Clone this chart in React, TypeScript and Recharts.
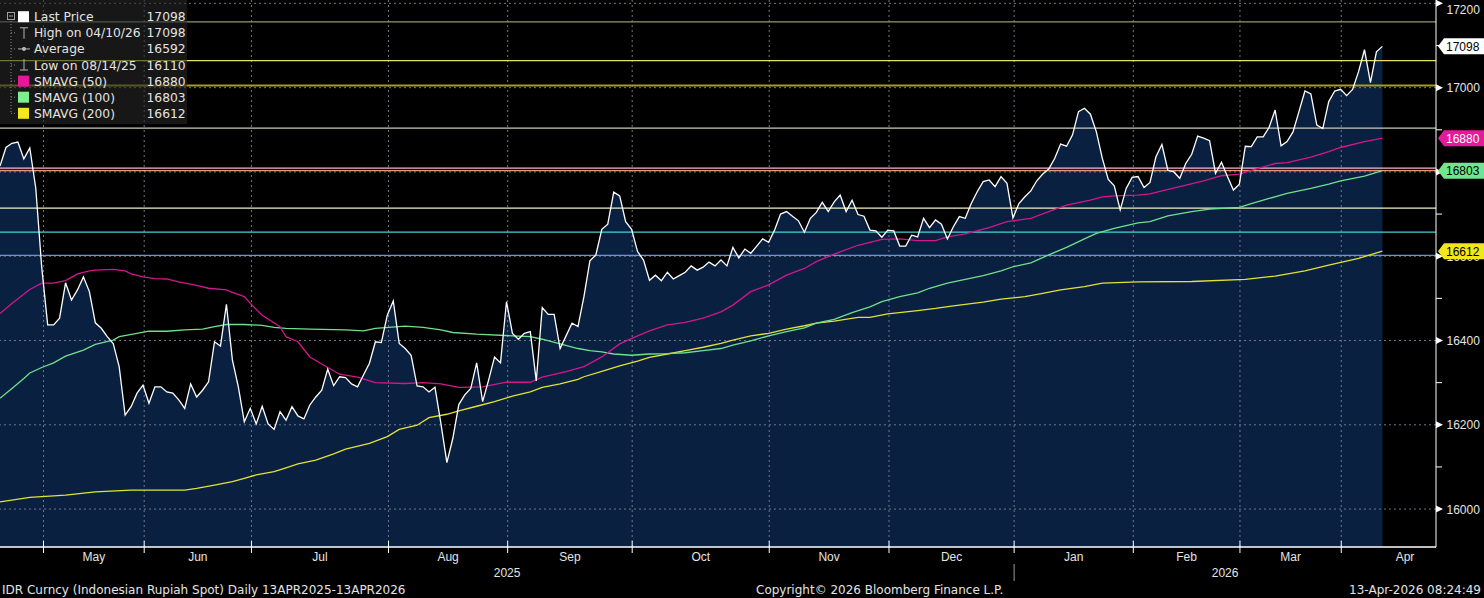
import React from "react"
import { ComposedChart, Area, Line, XAxis, YAxis, ReferenceLine } from "recharts"

// trading session index -> IDR spot close
const PRICE: [number, number][] = [
  [0, 16814], [1, 16858], [2, 16868], [3, 16871], [4, 16831], [5, 16857], [6, 16762], [7, 16574], [8, 16437], [9, 16437],
  [10, 16453], [11, 16537], [12, 16496], [13, 16520], [14, 16551], [15, 16516], [16, 16442], [17, 16429], [18, 16409], [19, 16393],
  [20, 16338], [21, 16223], [22, 16243], [23, 16275], [24, 16294], [25, 16251], [26, 16290], [27, 16290], [28, 16278], [29, 16275],
  [30, 16259], [31, 16239], [32, 16297], [33, 16266], [34, 16282], [35, 16302], [36, 16397], [37, 16387], [38, 16486], [39, 16354],
  [40, 16290], [41, 16207], [42, 16239], [43, 16202], [44, 16244], [45, 16202], [46, 16189], [47, 16231], [48, 16211], [49, 16243],
  [50, 16221], [51, 16214], [52, 16247], [53, 16266], [54, 16282], [55, 16332], [56, 16293], [57, 16314], [58, 16312], [59, 16297],
  [60, 16290], [61, 16318], [62, 16346], [63, 16397], [64, 16395], [65, 16460], [66, 16494], [67, 16393], [68, 16381], [69, 16365],
  [70, 16292], [71, 16290], [72, 16278], [73, 16289], [74, 16203], [75, 16110], [76, 16168], [77, 16248], [78, 16271], [79, 16286],
  [80, 16347], [81, 16255], [82, 16306], [83, 16361], [84, 16347], [85, 16492], [86, 16417], [87, 16403], [88, 16417], [89, 16421],
  [90, 16304], [91, 16478], [92, 16462], [93, 16462], [94, 16381], [95, 16411], [96, 16441], [97, 16433], [98, 16504], [99, 16589],
  [100, 16603], [101, 16664], [102, 16676], [103, 16752], [104, 16743], [105, 16682], [106, 16664], [107, 16611], [108, 16591], [109, 16543],
  [110, 16555], [111, 16542], [112, 16562], [113, 16546], [114, 16554], [115, 16562], [116, 16577], [117, 16567], [118, 16574], [119, 16586],
  [120, 16577], [121, 16591], [122, 16577], [123, 16621], [124, 16596], [125, 16617], [126, 16607], [127, 16624], [128, 16641], [129, 16633],
  [130, 16662], [131, 16700], [132, 16706], [133, 16695], [134, 16684], [135, 16657], [136, 16690], [137, 16704], [138, 16728], [139, 16706],
  [140, 16729], [141, 16745], [142, 16706], [143, 16733], [144, 16699], [145, 16695], [146, 16662], [147, 16660], [148, 16645], [149, 16662],
  [150, 16660], [151, 16624], [152, 16624], [153, 16650], [154, 16646], [155, 16690], [156, 16668], [157, 16686], [158, 16676], [159, 16641],
  [160, 16670], [161, 16694], [162, 16690], [163, 16725], [164, 16753], [165, 16777], [166, 16781], [167, 16765], [168, 16789], [169, 16773],
  [170, 16691], [171, 16725], [172, 16741], [173, 16755], [174, 16779], [175, 16795], [176, 16807], [177, 16832], [178, 16866], [179, 16861],
  [180, 16888], [181, 16943], [182, 16951], [183, 16937], [184, 16895], [185, 16832], [186, 16782], [187, 16767], [188, 16710], [189, 16761],
  [190, 16787], [191, 16789], [192, 16763], [193, 16775], [194, 16836], [195, 16865], [196, 16804], [197, 16800], [198, 16785], [199, 16820],
  [200, 16842], [201, 16885], [202, 16880], [203, 16874], [204, 16797], [205, 16823], [206, 16789], [207, 16757], [208, 16771], [209, 16861],
  [210, 16860], [211, 16883], [212, 16883], [213, 16906], [214, 16947], [215, 16862], [216, 16872], [217, 16895], [218, 16943], [219, 16992],
  [220, 16985], [221, 16911], [222, 16903], [223, 16967], [224, 16992], [225, 16996], [226, 16981], [227, 16996], [228, 17038], [229, 17090],
  [230, 17012], [231, 17085], [232, 17098],
]

const SMA50: [number, number][] = [
  [0, 16464], [2, 16488], [5, 16521], [7, 16536], [9, 16536], [11, 16542], [13, 16558], [15, 16565], [16, 16567], [19, 16569],
  [21, 16565], [22, 16558], [24, 16551], [26, 16547], [28, 16546], [30, 16539], [33, 16531], [35, 16524], [38, 16520], [39, 16514],
  [41, 16504], [42, 16488], [44, 16460], [47, 16433], [48, 16409], [50, 16397], [52, 16361], [55, 16336], [57, 16320], [60, 16313],
  [63, 16300], [68, 16298], [71, 16300], [74, 16297], [77, 16289], [81, 16290], [85, 16301], [89, 16301], [91, 16313], [95, 16326],
  [98, 16338], [101, 16361], [104, 16392], [107, 16411], [109, 16423], [112, 16437], [115, 16443], [118, 16453], [121, 16468], [123, 16484],
  [126, 16516], [129, 16532], [132, 16555], [135, 16571], [137, 16587], [140, 16605], [144, 16626], [148, 16640], [151, 16641], [154, 16637],
  [157, 16637], [159, 16646], [162, 16653], [166, 16668], [169, 16682], [173, 16690], [176, 16706], [179, 16721], [183, 16733], [185, 16741],
  [187, 16743], [191, 16745], [193, 16748], [195, 16755], [198, 16765], [202, 16779], [205, 16791], [208, 16795], [211, 16808], [214, 16820],
  [216, 16822], [220, 16835], [223, 16848], [225, 16858], [229, 16872], [232, 16880],
]

const SMA100: [number, number][] = [
  [0, 16263], [2, 16286], [4, 16310], [5, 16323], [7, 16336], [9, 16347], [11, 16363], [14, 16377], [16, 16391], [19, 16401],
  [20, 16409], [23, 16417], [25, 16422], [28, 16422], [31, 16425], [34, 16427], [36, 16433], [38, 16438], [41, 16438], [44, 16436],
  [46, 16431], [48, 16429], [52, 16427], [58, 16425], [61, 16423], [63, 16429], [68, 16434], [71, 16431], [74, 16425], [76, 16419],
  [80, 16415], [86, 16411], [89, 16409], [91, 16403], [94, 16392], [97, 16381], [99, 16376], [101, 16373], [103, 16368], [106, 16365],
  [109, 16368], [112, 16369], [115, 16371], [118, 16376], [121, 16381], [123, 16389], [126, 16399], [129, 16411], [132, 16421], [135, 16430],
  [137, 16441], [140, 16450], [143, 16466], [146, 16480], [148, 16492], [151, 16504], [154, 16513], [156, 16524], [159, 16536], [162, 16545],
  [165, 16554], [168, 16565], [170, 16575], [173, 16584], [176, 16603], [179, 16621], [182, 16641], [184, 16654], [187, 16666], [191, 16679],
  [193, 16682], [196, 16696], [200, 16706], [203, 16712], [208, 16716], [210, 16725], [213, 16737], [216, 16749], [220, 16761], [223, 16771],
  [225, 16779], [229, 16790], [232, 16803],
]

const SMA200: [number, number][] = [
  [0, 16017], [5, 16028], [11, 16033], [16, 16041], [22, 16045], [28, 16045], [31, 16045], [33, 16049], [36, 16057], [39, 16065],
  [41, 16073], [43, 16081], [46, 16089], [48, 16098], [50, 16107], [53, 16116], [56, 16131], [58, 16142], [62, 16156], [65, 16172],
  [67, 16189], [70, 16199], [72, 16217], [75, 16225], [77, 16233], [80, 16244], [83, 16255], [86, 16268], [89, 16278], [91, 16289],
  [94, 16297], [97, 16308], [98, 16314], [101, 16327], [104, 16340], [107, 16351], [109, 16360], [112, 16368], [115, 16376], [118, 16384],
  [121, 16393], [123, 16401], [126, 16411], [129, 16417], [132, 16427], [135, 16435], [137, 16441], [140, 16446], [144, 16455], [146, 16455],
  [149, 16463], [154, 16471], [157, 16476], [160, 16482], [165, 16491], [168, 16498], [172, 16504], [175, 16512], [178, 16520], [182, 16528],
  [185, 16536], [191, 16539], [200, 16540], [209, 16545], [214, 16553], [219, 16565], [223, 16579], [228, 16595], [232, 16612],
]

// first session of each month (fractional = boundary between sessions); last one is off the chart
const MONTH_EDGES = [7.3, 24.2, 42.2, 65.2, 85.2, 106.1, 129.1, 149.2, 170.2, 190.2, 208.1, 225.1, 246.5]
const MONTHS = ["May", "Jun", "Jul", "Aug", "Sep", "Oct", "Nov", "Dec", "Jan", "Feb", "Mar", "Apr"]
const YEARS = ["2025", "2026"]
const YEAR_EDGE = 170.2

const Y_MAJOR = [16000, 16200, 16400, 16600, 16800, 17000, 17200]
const Y_MINOR = [16100, 16300, 16500, 16700, 16900, 17100]

// drawn horizontal levels
const LEVELS = [17156, 17064, 17005, 16904, 16809, 16803, 16714, 16657, 16602]
const LEVEL_COLORS = ["#8a9a76", "#e4e45c", "#a89c20", "#cdc9bb", "#f2b9d6", "#e89672", "#f1efc6", "#46d2d2", "#6f8fe6"]

const TAGS = [17098, 16880, 16803, 16612]
const TAG_STYLE = [
  { fill: "#ffffff", text: "#000000" },
  { fill: "#e8189a", text: "#ffffff" },
  { fill: "#6ee68c", text: "#000000" },
  { fill: "#f2e61c", text: "#000000" },
]

const LEGEND_NAMES = ["Last Price", "High on 04/10/26", "Average", "Low on 08/14/25", "SMAVG (50)", "SMAVG (100)", "SMAVG (200)"]
const LEGEND_VALUES = [17098, 17098, 16592, 16110, 16880, 16803, 16612]

const FOOTER_LEFT = "IDR Curncy (Indonesian Rupiah Spot) Daily 13APR2025-13APR2026"
const FOOTER_MID = "Copyright\u00a9 2026 Bloomberg Finance L.P."
const FOOTER_RIGHT = "13-Apr-2026 08:24:49"

const W = 1484
const H = 598
const X_MIN = 0
const X_MAX = 241
const Y_MIN = 15910
const Y_MAX = 17208

const COL = {
  fill: "#0a2040",
  price: "#ffffff",
  sma50: "#d4168c",
  sma100: "#6fe08c",
  sma200: "#e2e232",
  grid: "#6f7787",
  text: "#e4e4e4",
}
const AXIS_FONT = "'Liberation Sans', Arial, sans-serif"
const UI_FONT = "'DejaVu Sans', Verdana, sans-serif"

const rows = (a: [number, number][]) => a.map(([k, v]) => ({ k, v }))

// x ticks: month edges (tick marks), month labels (mid), year labels
type XInfo = { value: number; kind: "edge" | "month" | "year"; label?: string; sep?: boolean }
const X_INFO: XInfo[] = [
  ...MONTH_EDGES.filter((e) => e < X_MAX).map((e) => ({ value: e, kind: "edge" as const, sep: e === YEAR_EDGE })),
  ...MONTHS.map((m, i) => ({ value: (MONTH_EDGES[i] + MONTH_EDGES[i + 1]) / 2, kind: "month" as const, label: m })),
  { value: (X_MIN + YEAR_EDGE) / 2, kind: "year", label: YEARS[0] },
  { value: (YEAR_EDGE + X_MAX) / 2, kind: "year", label: YEARS[1] },
]

function XTick(props: any) {
  const { x, y, payload } = props
  const info = X_INFO.find((t) => t.value === payload.value)
  if (!info) return <g />
  if (info.kind === "edge")
    return (
      <g>
        <line x1={x} x2={x} y1={y - 6} y2={y + 6} stroke="#ffffff" />
        {info.sep && <line x1={x} x2={x} y1={y + 17} y2={y + 34} stroke="#9a9a9a" />}
      </g>
    )
  return (
    <text
      x={x}
      y={y + (info.kind === "month" ? 14 : 30)}
      textAnchor="middle"
      fontSize={12}
      fontFamily={AXIS_FONT}
      fill={COL.text}
    >
      {info.label}
    </text>
  )
}

function YTick(props: any) {
  const { x, y, payload } = props
  const v = payload.value
  const ti = TAGS.indexOf(v)
  if (ti >= 0) {
    const s = TAG_STYLE[ti]
    return (
      <g>
        <path d={`M${x + 2},${y} L${x + 8},${y - 8} L${x + 48},${y - 8} L${x + 48},${y + 8} L${x + 8},${y + 8} Z`} fill={s.fill} />
        <text x={x + 10} y={y + 4.5} fontSize={12} fontFamily={AXIS_FONT} fill={s.text}>
          {v}
        </text>
      </g>
    )
  }
  if (Y_MAJOR.includes(v)) {
    const ty = Math.max(y, 9)
    return (
      <g>
        <path d={`M${x},${y - 3.5} L${x + 7},${y} L${x},${y + 3.5} Z`} fill="#ffffff" />
        <text x={x + 10.5} y={ty + 4.5} fontSize={12} fontFamily={AXIS_FONT} fill={COL.text}>
          {v}
        </text>
      </g>
    )
  }
  return <line x1={x} x2={x + 6} y1={y} y2={y} stroke="#ffffff" />
}

function Legend() {
  const rowY = (i: number) => 16.7 + i * 16.1
  const sq = ["#ffffff", null, null, null, "#e8179a", "#7cf08e", "#f4e81c"]
  return (
    <g>
      <rect x={0} y={0} width={187} height={124} fill="#262626" fillOpacity={0.6} />
      <rect x={7.5} y={12.5} width={7} height={7} fill="none" stroke="#a0a0a0" />
      <line x1={9} x2={13} y1={16} y2={16} stroke="#a0a0a0" />
      <line x1={11} x2={11} y1={21} y2={rowY(6)} stroke="#8a8a8a" strokeDasharray="1 2" />
      {LEGEND_NAMES.map((name, i) => {
        const cy = rowY(i)
        return (
          <g key={name}>
            {i > 0 && <line x1={11} x2={17} y1={cy} y2={cy} stroke="#8a8a8a" strokeDasharray="1 2" />}
            {sq[i] && <rect x={18} y={cy - 5.5} width={11} height={11} fill={sq[i] as string} />}
            {i === 1 && (
              <g stroke="#b4b4b4">
                <line x1={20} x2={28} y1={cy - 5} y2={cy - 5} />
                <line x1={24} x2={24} y1={cy - 5} y2={cy + 6} />
              </g>
            )}
            {i === 2 && (
              <g stroke="#b4b4b4" fill="#b4b4b4">
                <line x1={18} x2={30} y1={cy} y2={cy} />
                <circle cx={24} cy={cy} r={1.6} />
              </g>
            )}
            {i === 3 && (
              <g stroke="#b4b4b4">
                <line x1={24} x2={24} y1={cy - 6} y2={cy + 5} />
                <line x1={20} x2={28} y1={cy + 5} y2={cy + 5} />
              </g>
            )}
            <text x={34} y={cy + 4.5} fontSize={12.3} fontFamily={UI_FONT} fill={COL.text}>
              {name}
            </text>
            <text x={146.5} y={cy + 4.5} fontSize={12.3} fontFamily={UI_FONT} fill={COL.text}>
              {LEGEND_VALUES[i]}
            </text>
          </g>
        )
      })}
    </g>
  )
}

export default function App() {
  const yTicks = [...Y_MINOR, ...Y_MAJOR, ...TAGS]
  return (
    <div style={{ position: "absolute", left: 0, top: 0, width: W, height: H, background: "#000000", overflow: "hidden" }}>
      <ComposedChart width={W} height={H} margin={{ top: 0, right: 0, bottom: 0, left: 0 }} style={{ pointerEvents: "none" }}>
        <XAxis
          type="number"
          dataKey="k"
          domain={[X_MIN, X_MAX]}
          allowDataOverflow
          ticks={X_INFO.map((t) => t.value)}
          interval={0}
          tick={<XTick />}
          tickLine={false}
          tickSize={0}
          tickMargin={0}
          axisLine={{ stroke: "#ffffff", strokeWidth: 1.5 }}
          height={51}
        />
        <YAxis
          orientation="right"
          type="number"
          domain={[Y_MIN, Y_MAX]}
          allowDataOverflow
          ticks={yTicks}
          interval={0}
          tick={<YTick />}
          tickLine={false}
          tickSize={0}
          tickMargin={0}
          axisLine={{ stroke: "#ffffff" }}
          width={48}
        />
        {Y_MAJOR.map((v) => (
          <ReferenceLine key={"g" + v} y={v} stroke={COL.grid} strokeDasharray="2 3" />
        ))}
        {MONTH_EDGES.filter((e) => e < X_MAX).map((e) => (
          <ReferenceLine key={"m" + e} x={e} stroke={COL.grid} strokeDasharray="2 3" />
        ))}
        <Area
          data={rows(PRICE)}
          dataKey="v"
          type="linear"
          stroke="none"
          fill={COL.fill}
          fillOpacity={1}
          activeDot={false}
          isAnimationActive={false}
        />
        {LEVELS.map((v, i) => (
          <ReferenceLine key={"l" + v} y={v} stroke={LEVEL_COLORS[i]} strokeWidth={i === 2 ? 2 : 1.3} />
        ))}
        <Line data={rows(SMA200)} dataKey="v" type="linear" stroke={COL.sma200} strokeWidth={1.3} dot={false} activeDot={false} isAnimationActive={false} />
        <Line data={rows(SMA100)} dataKey="v" type="linear" stroke={COL.sma100} strokeWidth={1.3} dot={false} activeDot={false} isAnimationActive={false} />
        <Line data={rows(SMA50)} dataKey="v" type="linear" stroke={COL.sma50} strokeWidth={1.3} dot={false} activeDot={false} isAnimationActive={false} />
        <Line data={rows(PRICE)} dataKey="v" type="linear" stroke={COL.price} strokeWidth={1.3} dot={false} activeDot={false} isAnimationActive={false} />
      </ComposedChart>
      <svg width={W} height={H} style={{ position: "absolute", left: 0, top: 0, pointerEvents: "none" }}>
        <Legend />
        <g fontSize={12} fontFamily={UI_FONT} fill={COL.text}>
          <text x={2} y={594}>{FOOTER_LEFT}</text>
          <text x={756} y={594}>{FOOTER_MID}</text>
          <text x={1481} y={594} textAnchor="end">{FOOTER_RIGHT}</text>
        </g>
      </svg>
    </div>
  )
}
